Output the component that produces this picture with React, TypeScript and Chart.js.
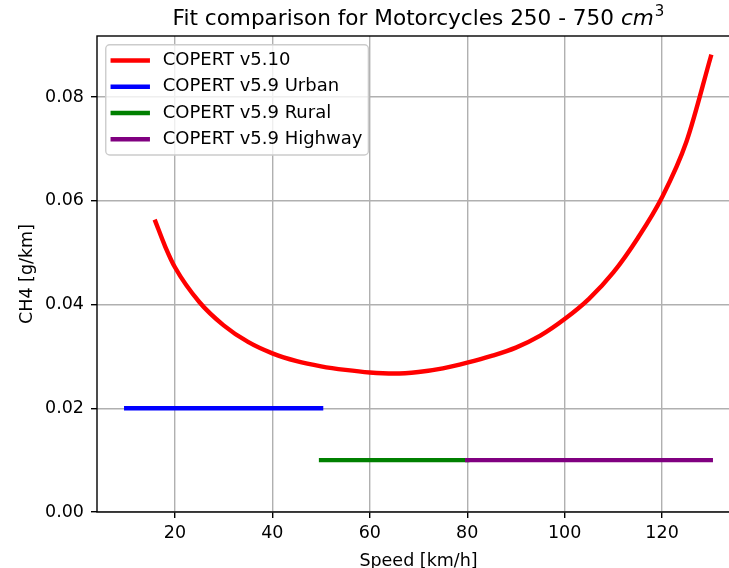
import React, { useEffect, useRef } from 'react';
import { Chart, registerables } from 'chart.js';

Chart.register(...registerables);

// ---- data ----
const TITLE_MAIN = 'Fit comparison for Motorcycles 250 - 750 ';
const TITLE_UNIT = 'cm';
const TITLE_EXP = '3';
const X_TITLE = 'Speed [km/h]';
const Y_TITLE = 'CH4 [g/km]';

const seriesLabels = ['COPERT v5.10', 'COPERT v5.9 Urban', 'COPERT v5.9 Rural', 'COPERT v5.9 Highway'];

const speedV510 = [16, 18, 20, 25, 30, 35, 40, 45, 50, 55, 60, 65, 70, 75, 80, 85, 90, 95, 100, 105, 110, 115, 120, 125, 130];
const ch4V510 = [0.0560, 0.0512, 0.0472, 0.0405, 0.0360, 0.0328, 0.0306, 0.0291, 0.0281, 0.0274, 0.0269, 0.0267, 0.0270, 0.0277, 0.0288, 0.0301, 0.0317, 0.0340, 0.0372, 0.0411, 0.0462, 0.0528, 0.0607, 0.0714, 0.0878];

const urbanSpeed = [10, 50];
const urbanCH4 = [0.02, 0.02];
const ruralSpeed = [50, 80];
const ruralCH4 = [0.01, 0.01];
const highwaySpeed = [80, 130];
const highwayCH4 = [0.01, 0.01];

const xTickValues = [20, 40, 60, 80, 100, 120];
const yTickValues = [0, 0.02, 0.04, 0.06, 0.08];

// ---- layout / style ----
const W = 760;
const H = 590;
const FONT = '"DejaVu Sans"';
const FS = 17.5;
const LEG_FS = 18;
const GRID = '#b0b0b0';
const LW = 4.4;

const pts = (xs: number[], ys: number[]) => xs.map((x, i) => ({ x, y: ys[i] }));

export default function App() {
  const ref = useRef<HTMLCanvasElement>(null);

  useEffect(() => {
    const canvas = ref.current!;

    const framePlugin = {
      id: 'mplFrame',
      afterDatasetsDraw(chart: any) {
        const { ctx, chartArea } = chart;
        const { left, top, right, bottom } = chartArea;
        ctx.save();
        ctx.strokeStyle = '#000';
        ctx.lineWidth = 1.4;
        ctx.strokeRect(left, top, right - left, bottom - top);
        ctx.restore();
      },
    };

    const legendPlugin = {
      id: 'mplLegend',
      afterDraw(chart: any) {
        const { ctx, chartArea } = chart;
        const ds = chart.data.datasets;
        ctx.save();
        ctx.font = `${LEG_FS}px ${FONT}`;
        const maxW = Math.max(...ds.map((d: any) => ctx.measureText(d.label).width));
        const pad = 0.4 * FS, hl = 2 * FS, htp = 0.8 * FS, ls = 0.5 * FS, bap = 0.5 * FS, rowH = FS;
        const bx = chartArea.left + bap;
        const by = chartArea.top + bap;
        const bw = pad + hl + htp + maxW + pad;
        const bh = pad * 2 + ds.length * rowH + (ds.length - 1) * ls;
        const r = 4;
        ctx.beginPath();
        ctx.moveTo(bx + r, by);
        ctx.lineTo(bx + bw - r, by);
        ctx.arcTo(bx + bw, by, bx + bw, by + r, r);
        ctx.lineTo(bx + bw, by + bh - r);
        ctx.arcTo(bx + bw, by + bh, bx + bw - r, by + bh, r);
        ctx.lineTo(bx + r, by + bh);
        ctx.arcTo(bx, by + bh, bx, by + bh - r, r);
        ctx.lineTo(bx, by + r);
        ctx.arcTo(bx, by, bx + r, by, r);
        ctx.closePath();
        ctx.fillStyle = 'rgba(255,255,255,0.8)';
        ctx.fill();
        ctx.strokeStyle = '#cccccc';
        ctx.lineWidth = 1.4;
        ctx.stroke();
        ds.forEach((d: any, i: number) => {
          const cy = by + pad + rowH / 2 + i * (rowH + ls);
          ctx.beginPath();
          ctx.moveTo(bx + pad, cy);
          ctx.lineTo(bx + pad + hl, cy);
          ctx.strokeStyle = d.borderColor;
          ctx.lineWidth = d.borderWidth;
          ctx.lineCap = 'square';
          ctx.stroke();
          ctx.fillStyle = '#000';
          ctx.textAlign = 'left';
          ctx.textBaseline = 'middle';
          ctx.fillText(d.label, bx + pad + hl + htp + 1, cy);
        });
        ctx.restore();
      },
    };

    const titlePlugin = {
      id: 'mplTitle',
      afterDraw(chart: any) {
        const { ctx, chartArea } = chart;
        ctx.save();
        const f1 = `21.6px ${FONT}`;
        const f2 = `italic 21.6px ${FONT}`;
        const f3 = `15px ${FONT}`;
        ctx.font = f1;
        const w1 = ctx.measureText(TITLE_MAIN).width;
        ctx.font = f2;
        const w2 = ctx.measureText(TITLE_UNIT).width;
        ctx.font = f3;
        const w3 = ctx.measureText(TITLE_EXP).width;
        const total = w1 + w2 + w3 + 1;
        let x = (chartArea.left + chartArea.right) / 2 - total / 2;
        const base = 25;
        ctx.fillStyle = '#000';
        ctx.textAlign = 'left';
        ctx.textBaseline = 'alphabetic';
        ctx.font = f1;
        ctx.fillText(TITLE_MAIN, x, base);
        x += w1;
        ctx.font = f2;
        ctx.fillText(TITLE_UNIT, x, base);
        x += w2 + 1;
        ctx.font = f3;
        ctx.fillText(TITLE_EXP, x, base - 9);
        ctx.restore();
      },
    };

    const chart = new Chart(canvas, {
      type: 'line',
      data: {
        datasets: [
          {
            label: seriesLabels[0],
            data: pts(speedV510, ch4V510),
            borderColor: '#ff0000',
            borderWidth: LW,
            cubicInterpolationMode: 'monotone',
            borderCapStyle: 'square',
            borderJoinStyle: 'round',
            pointRadius: 0,
            fill: false,
            order: 3,
          },
          {
            label: seriesLabels[1],
            data: pts(urbanSpeed, urbanCH4),
            borderColor: '#0000ff',
            borderWidth: LW,
            borderCapStyle: 'square',
            pointRadius: 0,
            fill: false,
            order: 2,
          },
          {
            label: seriesLabels[2],
            data: pts(ruralSpeed, ruralCH4),
            borderColor: '#008000',
            borderWidth: LW,
            borderCapStyle: 'square',
            pointRadius: 0,
            fill: false,
            order: 1,
          },
          {
            label: seriesLabels[3],
            data: pts(highwaySpeed, highwayCH4),
            borderColor: '#800080',
            borderWidth: LW,
            borderCapStyle: 'square',
            pointRadius: 0,
            fill: false,
            order: 0,
          },
        ],
      } as any,
      options: {
        animation: false,
        responsive: false,
        devicePixelRatio: 1,
        layout: { padding: { left: 0, top: 36, right: W - 740, bottom: 0 } },
        font: { family: FONT },
        plugins: {
          legend: { display: false },
          title: { display: false },
          tooltip: { enabled: false },
        },
        scales: {
          x: {
            type: 'linear',
            min: 4,
            max: 136,
            afterBuildTicks: (s: any) => {
              s.ticks = xTickValues.map((v) => ({ value: v }));
            },
            afterFit: (s: any) => {
              s.height = H - 512;
            },
            grid: { color: GRID, lineWidth: 1.4, tickColor: '#000', tickWidth: 1.4, tickLength: 6 },
            border: { display: false },
            ticks: {
              font: { family: FONT, size: FS },
              color: '#000',
              padding: 5,
              maxRotation: 0,
              autoSkip: false,
              callback: (v: any) => String(v),
            },
            title: {
              display: true,
              text: X_TITLE,
              color: '#000',
              font: { family: FONT, size: FS, lineHeight: 1.2 },
              padding: { top: 4, bottom: 18.5 },
            },
          },
          y: {
            type: 'linear',
            min: 0,
            max: 0.0918,
            afterBuildTicks: (s: any) => {
              s.ticks = yTickValues.map((v) => ({ value: v }));
            },
            afterFit: (s: any) => {
              s.width = 97;
            },
            grid: { color: GRID, lineWidth: 1.4, tickColor: '#000', tickWidth: 1.4, tickLength: 6 },
            border: { display: false },
            ticks: {
              font: { family: FONT, size: FS },
              color: '#000',
              padding: 7,
              autoSkip: false,
              callback: (v: any) => Number(v).toFixed(2),
            },
            title: {
              display: true,
              text: Y_TITLE,
              color: '#000',
              font: { family: FONT, size: FS, lineHeight: 1.2 },
              padding: { top: 16.5, bottom: 4 },
            },
          },
        },
      } as any,
      plugins: [framePlugin, legendPlugin, titlePlugin],
    });

    return () => chart.destroy();
  }, []);

  return (
    <div
      style={{
        position: 'fixed',
        left: 0,
        top: 0,
        width: 729,
        height: 568,
        overflow: 'hidden',
        background: '#fff',
      }}
    >
      <canvas ref={ref} width={W} height={H} style={{ display: 'block', width: W, height: H }} />
    </div>
  );
}
